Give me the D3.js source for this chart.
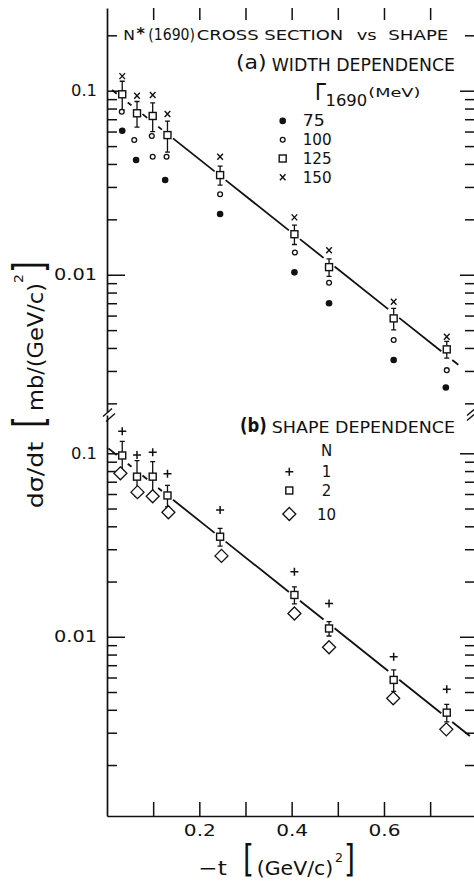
<!DOCTYPE html>
<html>
<head>
<meta charset="utf-8">
<script src="https://cdn.jsdelivr.net/npm/d3@7"></script>
<style>
  body { margin: 0; background: #fff; }
  svg { display: block; }
  text { font-family: "DejaVu Sans", sans-serif; fill: #111; }
</style>
</head>
<body>
<div id="chart"></div>
<script>
// -t of the measured points, (GeV/c)^2
const tPoints = [0.033, 0.065, 0.099, 0.131, 0.245, 0.406, 0.481, 0.621, 0.736];

// (a) width dependence, dsigma/dt in mb/(GeV/c)^2
const t75  = [0.033, 0.063, 0.126, 0.245, 0.406, 0.481, 0.621, 0.734];
const w75  = [0.0606, 0.042, 0.0327, 0.0214, 0.0103, 0.0070, 0.00344, 0.00244];
const t100 = [0.032, 0.059, 0.097, 0.099, 0.129, 0.245, 0.407, 0.481, 0.621, 0.736];
const w100 = [0.0769, 0.054, 0.0567, 0.0438, 0.0438, 0.0274, 0.0132, 0.00905, 0.00442, 0.00303];
const w125 = [0.0956, 0.0754, 0.0729, 0.0574, 0.0348, 0.0166, 0.0110, 0.00579, 0.00393];
const w125err = [0.017, 0.012, 0.013, 0.011, 0.0041, 0.0020, 0.0012, 0.00077, 0.00041];
const w150 = [0.120, 0.0939, 0.0948, 0.0747, 0.0438, 0.0205, 0.0136, 0.00713, 0.0046];

// (b) shape dependence
const n1  = [0.1319, 0.0979, 0.1013, 0.0773, 0.0491, 0.0226, 0.0152, 0.00779, 0.00518];
const n2  = [0.0973, 0.0746, 0.0746, 0.0589, 0.0351, 0.0169, 0.0111, 0.00582, 0.00386];
const n2err = [0.0187, 0.0166, 0.0155, 0.0079, 0.0039, 0.0018, 0.0010, 0.00078, 0.00042];
const t10 = [0.029, 0.066, 0.099, 0.133, 0.248, 0.406, 0.481, 0.620, 0.735];
const n10 = [0.0778, 0.0614, 0.0583, 0.0477, 0.0276, 0.0134, 0.00877, 0.00462, 0.00313];

// fitted lines (end points)
const fitTa = [0.011, 0.761];
const fitVa = [0.1009, 0.00324];
const fitTb = [0.003, 0.786];
const fitVb = [0.1064, 0.00288];

// ticks and legend text
const xTicks = [0.1, 0.2, 0.3, 0.4, 0.5, 0.6, 0.7];
const xLabels = [0.2, 0.4, 0.6];
const yMajor = [0.01, 0.1];
const minorA = [0.002, 0.003, 0.004, 0.005, 0.006, 0.007, 0.008, 0.009,
                0.02, 0.03, 0.04, 0.05, 0.06, 0.07, 0.08, 0.09, 0.2];
const minorB = [0.002, 0.003, 0.004, 0.005, 0.006, 0.007, 0.008, 0.009,
                0.02, 0.03, 0.04, 0.05, 0.06, 0.07, 0.08, 0.09];
const widthLabels = ["75", "100", "125", "150"];
const shapeLabels = ["1", "2", "10"];

const W = 474, H = 882;

const svg = d3.select("#chart").append("svg")
  .attr("width", W).attr("height", H);
svg.append("rect").attr("width", W).attr("height", H).attr("fill", "#fff");

const x = d3.scaleLinear().domain([0, 0.795]).range([107, 474]);
const yA = d3.scaleLog().domain([0.001795, 0.2815]).range([412, 8]);
const yB = d3.scaleLog().domain([0.001055, 0.1617]).range([816, 415]);

function txt(parent, s, px, py, size, len, anchor) {
  let t = parent.append("text").attr("x", px).attr("y", py)
    .attr("font-size", size).text(s);
  if (len) t.attr("textLength", len).attr("lengthAdjust", "spacingAndGlyphs");
  if (anchor) t.attr("text-anchor", anchor);
  return t;
}

function styleAxis(g, keepDomain) {
  g.selectAll("line").attr("stroke", "#111").attr("stroke-width", 1.5);
  if (keepDomain) g.select(".domain").attr("stroke", "#111").attr("stroke-width", 1.7);
  else g.select(".domain").remove();
}

// left and right log axes of one panel
function yAxes(y, minor) {
  let gMin = svg.append("g").attr("transform", `translate(${x(0)},0)`)
    .call(d3.axisRight(y).tickValues(minor).tickSizeInner(10).tickSizeOuter(0).tickFormat(""));
  styleAxis(gMin, true);
  let gMaj = svg.append("g").attr("transform", `translate(${x(0)},0)`)
    .call(d3.axisRight(y).tickValues(yMajor).tickSizeInner(18).tickSizeOuter(0).tickFormat(""));
  styleAxis(gMaj, false);

  let gLab = svg.append("g").attr("transform", `translate(${x(0)},0)`)
    .call(d3.axisLeft(y).tickValues(yMajor).tickSize(0).tickPadding(10).tickFormat(d3.format("")));
  gLab.select(".domain").remove();
  gLab.selectAll("text")
    .attr("font-family", "DejaVu Sans").attr("font-size", 16).attr("fill", "#111")
    .attr("textLength", d => d < 0.05 ? 43 : 26).attr("lengthAdjust", "spacingAndGlyphs");

  let rMin = svg.append("g").attr("transform", `translate(${x.range()[1]},0)`)
    .call(d3.axisLeft(y).tickValues(minor).tickSizeInner(9).tickSizeOuter(0).tickFormat(""));
  styleAxis(rMin, false);
  let rMaj = svg.append("g").attr("transform", `translate(${x.range()[1]},0)`)
    .call(d3.axisLeft(y).tickValues(yMajor).tickSizeInner(14).tickSizeOuter(0).tickFormat(""));
  styleAxis(rMaj, false);
}

yAxes(yA, minorA);
yAxes(yB, minorB);

// top ticks
let gTop = svg.append("g").attr("transform", `translate(0,${yA.range()[1]})`)
  .call(d3.axisTop(x).tickValues(xTicks).tickSizeInner(-12).tickSizeOuter(0).tickFormat(""));
styleAxis(gTop, false);

// bottom axis
let gBot = svg.append("g").attr("transform", `translate(0,${yB.range()[0]})`)
  .call(d3.axisBottom(x).tickValues(xTicks).tickSizeInner(-14).tickSizeOuter(0).tickPadding(9)
    .tickFormat(d => xLabels.includes(d) ? d3.format(".1f")(d) : ""));
styleAxis(gBot, true);
gBot.selectAll("text")
  .attr("font-family", "DejaVu Sans").attr("font-size", 16).attr("fill", "#111")
  .filter(d => xLabels.includes(d))
  .attr("textLength", 32).attr("lengthAdjust", "spacingAndGlyphs");

// axis breaks
const brk = d3.path();
const bx = x(0), by = (yA.range()[0] + yB.range()[1]) / 2;
brk.moveTo(bx - 4, by + 3); brk.lineTo(bx + 5, by - 5);
brk.moveTo(bx - 1, by + 8); brk.lineTo(bx + 8, by);
const rx = x.range()[1];
brk.moveTo(rx - 7, by + 2); brk.lineTo(rx, by - 4);
brk.moveTo(rx - 7, by + 7); brk.lineTo(rx, by + 1);
svg.append("path").attr("d", brk.toString()).attr("stroke", "#111")
  .attr("stroke-width", 1.4).attr("fill", "none");

// fitted straight lines, broken around the square points
function fitLine(y, ft, fv, gapsT) {
  const x1 = x(ft[0]), y1 = y(fv[0]), x2 = x(ft[1]), y2 = y(fv[1]);
  const at = px => y1 + (y2 - y1) * (px - x1) / (x2 - x1);
  let cuts = [x1];
  gapsT.forEach(t => { cuts.push(x(t) - 5.5, x(t) + 5.5); });
  cuts.push(x2);
  for (let i = 0; i < cuts.length; i += 2) {
    if (cuts[i + 1] <= cuts[i]) continue;
    svg.append("line")
      .attr("x1", cuts[i]).attr("y1", at(cuts[i]))
      .attr("x2", cuts[i + 1]).attr("y2", at(cuts[i + 1]))
      .attr("stroke", "#111").attr("stroke-width", 1.8);
  }
}
fitLine(yA, fitTa, fitVa, tPoints);
fitLine(yB, fitTb, fitVb, tPoints);

// error bars
function errBars(y, ts, vs, es) {
  ts.forEach((t, i) => {
    const cx = x(t), top = y(vs[i] + es[i]), bot = y(vs[i] - es[i]);
    const p = d3.path();
    p.moveTo(cx, top); p.lineTo(cx, bot);
    p.moveTo(cx - 2.5, top); p.lineTo(cx + 2.5, top);
    p.moveTo(cx - 2.5, bot); p.lineTo(cx + 2.5, bot);
    svg.append("path").attr("d", p.toString()).attr("stroke", "#111")
      .attr("stroke-width", 1.3).attr("fill", "none");
  });
}
errBars(yA, tPoints, w125, w125err);
errBars(yB, tPoints, n2, n2err);

// marker shapes
function marker(g, type, cx, cy) {
  if (type === "dot") {
    g.append("circle").attr("cx", cx).attr("cy", cy).attr("r", 3.3).attr("fill", "#111");
  } else if (type === "ring") {
    g.append("circle").attr("cx", cx).attr("cy", cy).attr("r", 2.4)
      .attr("fill", "#fff").attr("stroke", "#111").attr("stroke-width", 1.3);
  } else if (type === "square") {
    g.append("rect").attr("x", cx - 3.5).attr("y", cy - 3.5).attr("width", 7).attr("height", 7)
      .attr("fill", "#fff").attr("stroke", "#111").attr("stroke-width", 1.4);
  } else if (type === "cross") {
    g.append("path").attr("d", `M${cx - 2.8},${cy - 3}L${cx + 2.8},${cy + 3}M${cx + 2.8},${cy - 3}L${cx - 2.8},${cy + 3}`)
      .attr("stroke", "#111").attr("stroke-width", 1.4);
  } else if (type === "plus") {
    g.append("path").attr("d", `M${cx - 4},${cy}H${cx + 4}M${cx},${cy - 4}V${cy + 4}`)
      .attr("stroke", "#111").attr("stroke-width", 1.5);
  } else if (type === "diamond") {
    g.append("path").attr("d", `M${cx},${cy - 6.5}L${cx + 6.5},${cy}L${cx},${cy + 6.5}L${cx - 6.5},${cy}Z`)
      .attr("fill", "#fff").attr("stroke", "#111").attr("stroke-width", 1.3);
  }
}

function series(y, type, ts, vs) {
  const g = svg.append("g");
  ts.forEach((t, i) => marker(g, type, x(t), y(vs[i])));
}
series(yA, "dot", t75, w75);
series(yA, "ring", t100, w100);
series(yA, "square", tPoints, w125);
series(yA, "cross", tPoints, w150);
series(yB, "diamond", t10, n10);
series(yB, "plus", tPoints, n1);
series(yB, "square", tPoints, n2);

// title
txt(svg, "N", 123.3, 40, 14.5, 11.7);
txt(svg, "*", 136.5, 38.5, 16).attr("font-weight", "bold");
txt(svg, "(1690)", 148.3, 40, 15, 46.7);
txt(svg, "CROSS SECTION", 196.7, 40, 14.5, 146.6);
txt(svg, "vs", 356.7, 40, 14.5, 20);
txt(svg, "SHAPE", 388.3, 40, 14.5, 60);

// (a) legend
txt(svg, "(a)", 236, 69, 20, 30.7);
txt(svg, "WIDTH DEPENDENCE", 271.7, 70.7, 17, 183.3);
txt(svg, "Γ", 315, 100, 23, 11).attr("font-family", "Liberation Serif");
txt(svg, "1690", 325.5, 106, 16, 41.7);
txt(svg, "(MeV)", 368.3, 96.5, 13, 52);
const legA = svg.append("g");
["dot", "ring", "square", "cross"].forEach((m, i) => {
  const cy = 120.9 + i * 18.8;
  marker(legA, m, 282.7, cy);
  txt(legA, widthLabels[i], 302.7, cy + 5.5, 15, widthLabels[i].length > 2 ? 29 : 22);
});

// (b) legend
txt(svg, "(b)", 240, 432, 19, 26.7).attr("font-weight", "bold");
txt(svg, "SHAPE DEPENDENCE", 271.7, 433, 16, 183.3);
txt(svg, "N", 326.7, 455.5, 15, null, "middle");
const legB = svg.append("g");
[["plus", 471.7], ["square", 490.5], ["diamond", 514]].forEach((m, i) => {
  marker(legB, m[0], 289.3, m[1]);
  txt(legB, shapeLabels[i], 326.5, m[1] + 5.5, 15, null, "middle");
});

// y axis title
const yt = svg.append("g").attr("transform", "translate(43,0) rotate(-90)");
txt(yt, "dσ/dt", -508.3, 0, 21, 66.6);
txt(yt, "[", -428, 1.3, 42, 12);
txt(yt, "mb/(GeV/c)", -411, 0, 21, 128);
txt(yt, "2", -283, -20, 13, 9);
txt(yt, "]", -273, 1.3, 42, 12);

// x axis title
txt(svg, "−t", 198.3, 875, 20, 28.4);
txt(svg, "[", 243, 871, 38, 11);
txt(svg, "(GeV/c)", 256.7, 875, 20, 76.6);
txt(svg, "2", 335, 861.7, 13, 8);
txt(svg, "]", 344, 871, 38, 11);
</script>
</body>
</html>
